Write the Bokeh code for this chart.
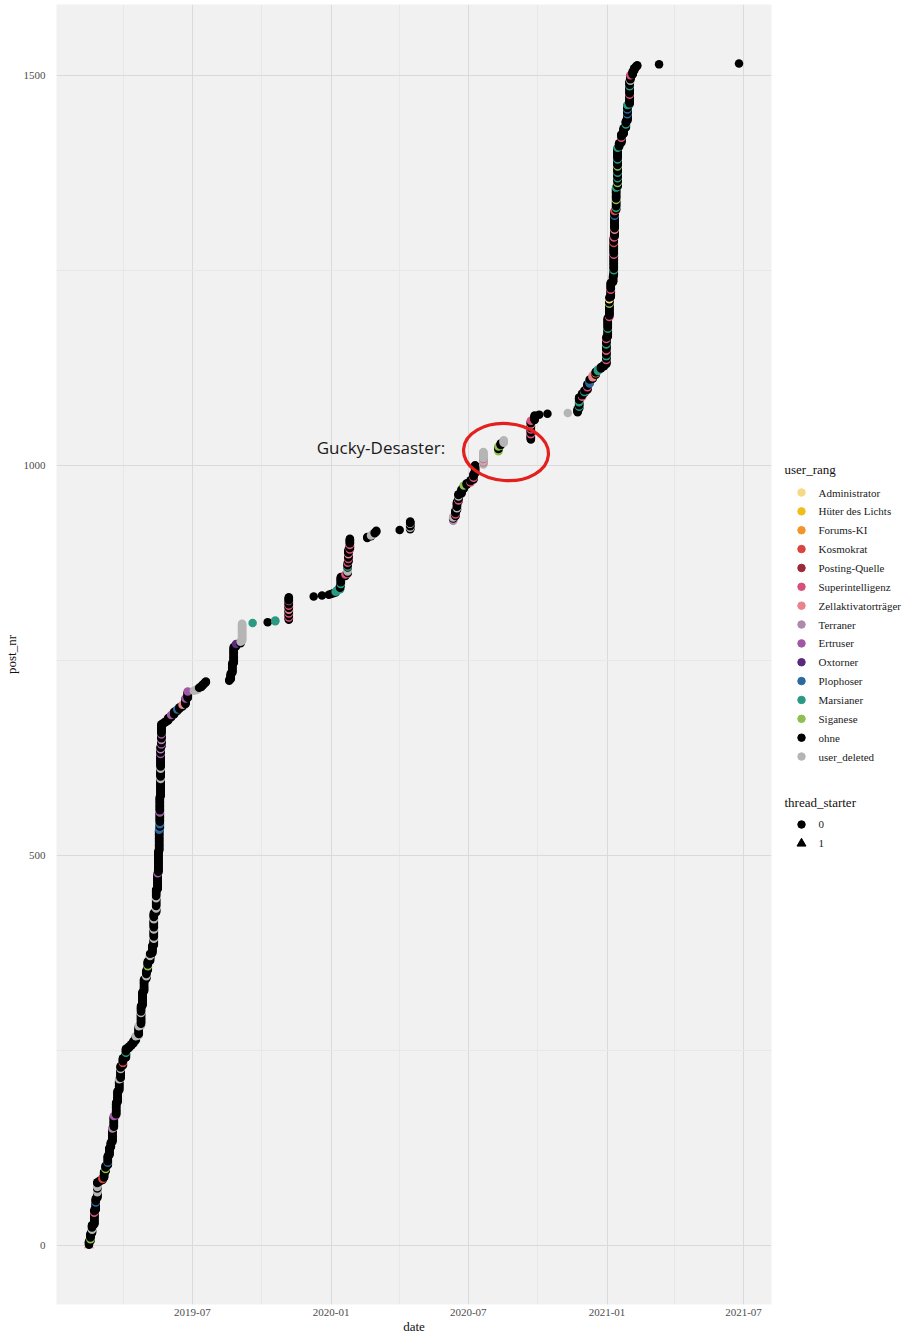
import pandas as pd
from bokeh.plotting import figure
from bokeh.models import ColumnDataSource, FixedTicker, DatetimeTickFormatter, Range1d, Label
from bokeh.layouts import row
from bokeh.core.properties import value
from bokeh.embed import file_html
from bokeh.resources import INLINE

# ---------------- data ----------------
# date of posting and cumulative (last) post_nr reached on that date
day_dates = [
    "2019-02-14", "2019-02-16", "2019-02-18", "2019-02-21", "2019-02-23", "2019-02-25",
    "2019-02-28", "2019-03-04", "2019-03-06", "2019-03-08", "2019-03-11", "2019-03-13",
    "2019-03-15", "2019-03-17", "2019-03-19", "2019-03-22", "2019-03-24", "2019-03-26",
    "2019-03-28", "2019-03-31", "2019-04-04", "2019-04-08", "2019-04-11", "2019-04-14",
    "2019-04-17", "2019-04-21", "2019-04-24", "2019-04-26", "2019-04-28", "2019-05-01",
    "2019-05-03", "2019-05-06", "2019-05-09", "2019-05-11", "2019-05-14", "2019-05-16",
    "2019-05-17", "2019-05-18", "2019-05-19", "2019-05-20", "2019-05-21", "2019-05-24",
    "2019-05-27", "2019-05-30", "2019-06-03", "2019-06-07", "2019-06-11", "2019-06-14",
    "2019-06-18", "2019-06-22", "2019-06-25", "2019-07-03", "2019-07-07", "2019-07-10",
    "2019-07-13", "2019-07-15", "2019-07-17", "2019-07-19", "2019-08-19", "2019-08-21",
    "2019-08-23", "2019-08-25", "2019-08-28", "2019-09-03", "2019-09-05", "2019-09-19",
    "2019-10-09", "2019-10-19", "2019-11-06", "2019-12-09", "2019-12-20", "2019-12-29",
    "2020-01-01", "2020-01-04", "2020-01-07", "2020-01-09", "2020-01-13", "2020-01-14",
    "2020-01-20", "2020-01-23", "2020-01-24", "2020-01-26", "2020-02-18", "2020-02-23",
    "2020-02-25", "2020-02-28", "2020-03-01", "2020-04-01", "2020-04-15", "2020-06-11",
    "2020-06-14", "2020-06-16", "2020-06-18", "2020-06-22", "2020-06-25", "2020-06-29",
    "2020-07-04", "2020-07-08", "2020-07-10", "2020-07-21", "2020-08-10", "2020-08-13",
    "2020-08-17", "2020-09-22", "2020-09-27", "2020-10-03", "2020-10-14", "2020-11-10",
    "2020-11-23", "2020-11-25", "2020-11-29", "2020-12-02", "2020-12-06", "2020-12-09",
    "2020-12-13", "2020-12-17", "2020-12-20", "2020-12-24", "2020-12-28", "2020-12-31",
    "2021-01-02", "2021-01-04", "2021-01-06", "2021-01-09", "2021-01-10", "2021-01-11",
    "2021-01-13", "2021-01-15", "2021-01-17", "2021-01-20", "2021-01-23", "2021-01-26",
    "2021-01-28", "2021-01-31", "2021-02-01", "2021-02-04", "2021-02-06", "2021-02-08",
    "2021-02-10", "2021-03-11", "2021-06-25",
]
cum_posts = [
    5, 15, 26, 45, 60, 81,
    83, 86, 94, 102, 115, 125,
    132, 150, 166, 183, 198, 213,
    230, 240, 252, 255, 258, 262,
    268, 281, 307, 325, 341, 352,
    364, 374, 384, 426, 456, 477,
    505, 533, 575, 639, 668, 670,
    672, 676, 680, 684, 687, 690,
    693, 701, 710, 711, 713, 715,
    717, 719, 721, 723, 725, 733,
    746, 767, 771, 774, 797, 798,
    799, 801, 831, 832, 833, 834,
    835, 836, 838, 840, 846, 857,
    860, 875, 891, 906, 908, 910,
    912, 914, 916, 917, 928, 934,
    942, 953, 963, 969, 974, 977,
    981, 989, 1000, 1017, 1024, 1028,
    1032, 1057, 1064, 1065, 1066, 1067,
    1072, 1087, 1092, 1096, 1104, 1110,
    1115, 1120, 1123, 1126, 1129, 1164,
    1189, 1215, 1234, 1243, 1292, 1326,
    1356, 1407, 1413, 1424, 1432, 1441,
    1462, 1492, 1500, 1505, 1509, 1511,
    1513, 1514, 1515,
]

# user ranks (legend order) and colours
rank_levels = ["Administrator", "Hüter des Lichts", "Forums-KI", "Kosmokrat", "Posting-Quelle",
               "Superintelligenz", "Zellaktivatorträger", "Terraner", "Ertruser", "Oxtorner",
               "Plophoser", "Marsianer", "Siganese", "ohne", "user_deleted"]
rank_colors = ["#F5DA86", "#EFBE1D", "#F2952A", "#D9463E", "#9C2936",
               "#D8507A", "#E8838E", "#B088AE", "#A257A5", "#5B2A7E",
               "#2B6A9E", "#2A9A82", "#8DC04E", "#000000", "#B5B5B5"]

# post_nr runs whose author had a rank other than "ohne"
rank_first = [0, 8, 20, 42, 55, 68, 75, 85, 98, 106, 150, 166, 213, 226, 234, 247, 268, 281, 298,
              345, 358, 371, 393, 405, 418, 432, 445, 477, 533, 540, 555, 598, 611, 630, 636, 642,
              648, 655, 680, 687, 693, 701, 710, 711, 771, 774, 798, 800, 805, 810, 815, 820, 826,
              838, 848, 860, 864, 870, 875, 880, 886, 892, 898, 910, 920, 925, 929, 933, 937, 945,
              955, 960, 974, 978, 984, 1001, 1004, 1008, 1018, 1024, 1029, 1040, 1046, 1052, 1057,
              1067, 1075, 1081, 1088, 1094, 1100, 1105, 1113, 1118, 1121, 1135, 1140, 1147, 1155,
              1162, 1175, 1190, 1207, 1213, 1225, 1250, 1270, 1285, 1292, 1302, 1320, 1326, 1330,
              1340, 1356, 1362, 1368, 1375, 1383, 1392, 1407, 1420, 1437, 1450, 1456, 1462, 1475,
              1486, 1493, 1500]
rank_last = [0, 9, 22, 43, 56, 72, 79, 86, 99, 107, 151, 167, 214, 227, 235, 248, 270, 283, 299,
             347, 359, 373, 395, 407, 420, 434, 447, 478, 536, 542, 557, 600, 613, 631, 637, 643,
             649, 656, 680, 687, 693, 701, 710, 714, 771, 797, 798, 801, 806, 811, 816, 821, 826,
             842, 849, 861, 868, 871, 876, 881, 887, 893, 899, 912, 921, 925, 931, 934, 938, 946,
             956, 961, 974, 979, 985, 1017, 1004, 1008, 1020, 1025, 1032, 1041, 1047, 1053, 1057,
             1067, 1076, 1083, 1089, 1095, 1101, 1109, 1115, 1118, 1123, 1136, 1141, 1148, 1156,
             1163, 1176, 1191, 1208, 1214, 1226, 1251, 1271, 1286, 1293, 1303, 1321, 1327, 1331,
             1341, 1357, 1363, 1369, 1376, 1384, 1393, 1408, 1421, 1438, 1451, 1457, 1463, 1476,
             1487, 1494, 1500]
rank_name = ["Zellaktivatorträger", "Siganese", "user_deleted", "Superintelligenz", "Plophoser",
             "user_deleted", "user_deleted", "Kosmokrat", "Siganese", "Plophoser", "Terraner",
             "Ertruser", "user_deleted", "user_deleted", "Kosmokrat", "Marsianer", "user_deleted",
             "user_deleted", "user_deleted", "user_deleted", "Siganese", "user_deleted",
             "user_deleted", "user_deleted", "user_deleted", "user_deleted", "user_deleted",
             "Ertruser", "Plophoser", "Plophoser", "Ertruser", "user_deleted", "user_deleted",
             "Ertruser", "Terraner", "Ertruser", "Terraner", "Ertruser", "Ertruser", "Plophoser",
             "Zellaktivatorträger", "Ertruser", "Ertruser", "user_deleted", "Oxtorner",
             "user_deleted", "Marsianer", "Marsianer", "Superintelligenz", "Superintelligenz",
             "Zellaktivatorträger", "Superintelligenz", "Superintelligenz", "Marsianer",
             "Marsianer", "Superintelligenz", "user_deleted", "Marsianer", "Superintelligenz",
             "Superintelligenz", "Zellaktivatorträger", "Superintelligenz", "Superintelligenz",
             "user_deleted", "user_deleted", "user_deleted", "Terraner", "user_deleted",
             "Superintelligenz", "user_deleted", "Superintelligenz", "user_deleted", "Siganese",
             "Superintelligenz", "Superintelligenz", "user_deleted", "Superintelligenz",
             "Superintelligenz", "Siganese", "Siganese", "user_deleted", "Superintelligenz",
             "Superintelligenz", "Zellaktivatorträger", "Superintelligenz", "user_deleted",
             "Marsianer", "Marsianer", "Superintelligenz", "Marsianer", "Superintelligenz",
             "Plophoser", "Zellaktivatorträger", "Forums-KI", "Marsianer", "Superintelligenz",
             "Marsianer", "Superintelligenz", "Marsianer", "Superintelligenz", "Marsianer",
             "Superintelligenz", "Siganese", "Administrator", "Superintelligenz", "Marsianer",
             "Superintelligenz", "Kosmokrat", "Superintelligenz", "Zellaktivatorträger",
             "Plophoser", "Kosmokrat", "Marsianer", "Siganese", "Marsianer", "Siganese",
             "Marsianer", "Marsianer", "Siganese", "Marsianer", "Marsianer", "Superintelligenz",
             "Marsianer", "Plophoser", "Plophoser", "Marsianer", "Superintelligenz", "Marsianer",
             "user_deleted", "Superintelligenz"]

thread_starter_posts = [0]

x_ticks = ["2019-07-01", "2020-01-01", "2020-07-01", "2021-01-01", "2021-07-01"]
x_minor = ["2019-01-01", "2019-04-01", "2019-10-01", "2020-04-01", "2020-10-01", "2021-04-01"]
y_ticks = [0, 500, 1000, 1500]
y_minor = [250, 750, 1250]

# ---------------- build table ----------------
post_nr, post_date = [], []
prev = -1
for d, c in zip(pd.to_datetime(day_dates), cum_posts):
    for n in range(prev + 1, c + 1):
        post_nr.append(n)
        post_date.append(d)
    prev = c

ranks = ["ohne"] * len(post_nr)
for a, b, r in zip(rank_first, rank_last, rank_name):
    for n in range(a, b + 1):
        ranks[n] = r
cmap = dict(zip(rank_levels, rank_colors))
colors = [cmap[r] for r in ranks]
starter = [1 if n in thread_starter_posts else 0 for n in post_nr]
markers = ["triangle" if s else "circle" for s in starter]
PT = 8.5
sizes = [PT + 1.5 if s else PT for s in starter]

src = ColumnDataSource(dict(date=post_date, post_nr=post_nr, color=colors,
                            marker=markers, size=sizes))

def ms(s):
    return pd.Timestamp(s).value // 10**6

dmin, dmax = min(post_date), max(post_date)
span = dmax - dmin
x_range = Range1d(dmin - 0.05 * span, dmax + 0.05 * span)
ymax = max(post_nr)
y_range = Range1d(-0.05 * ymax, ymax * 1.05)

SERIF = "Liberation Serif"
FW, FH, TOP = 715, 1300, 4

p = figure(frame_width=FW, frame_height=FH, x_axis_type="datetime",
           x_range=x_range, y_range=y_range, toolbar_location=None,
           output_backend="svg", min_border_left=52, min_border_right=6,
           min_border_top=TOP, min_border_bottom=0)
p.background_fill_color = "#F1F1F1"
p.border_fill_color = "white"
p.outline_line_color = None

p.xaxis.ticker = FixedTicker(ticks=[ms(t) for t in x_ticks], minor_ticks=[ms(t) for t in x_minor])
p.xaxis.formatter = DatetimeTickFormatter(years="%Y-%m", months="%Y-%m", days="%Y-%m",
                                          hours="%Y-%m", minutes="%Y-%m", seconds="%Y-%m",
                                          milliseconds="%Y-%m", microseconds="%Y-%m")
p.yaxis.ticker = FixedTicker(ticks=y_ticks, minor_ticks=y_minor)
p.xaxis.axis_label = "date"
p.yaxis.axis_label = "post_nr"
for ax in (p.xaxis, p.yaxis):
    ax.axis_line_color = None
    ax.major_tick_line_color = None
    ax.minor_tick_line_color = None
    ax.major_tick_out = 0
    ax.minor_tick_out = 0
    ax.major_label_text_font = SERIF
    ax.major_label_text_font_size = "11px"
    ax.major_label_text_color = "#4D4D4D"
    ax.axis_label_text_font = SERIF
    ax.axis_label_text_font_size = "13px"
    ax.axis_label_text_font_style = "normal"
    ax.axis_label_text_color = "#111111"
    ax.axis_label_standoff = 2
p.xaxis.major_label_standoff = 4
p.xaxis.axis_label_standoff = 0
p.yaxis.major_label_standoff = 11
p.yaxis.major_label_orientation = "horizontal"

for g in (p.xgrid, p.ygrid):
    g.grid_line_color = "#DADADA"
    g.grid_line_width = 1
    g.minor_grid_line_color = "#E7E7E7"
    g.minor_grid_line_width = 1

p.scatter(x="date", y="post_nr", source=src, marker="marker", size="size",
          fill_color="color", line_color=None)

# annotation
p.add_layout(Label(x=ms("2019-12-13"), y=1023, text="Gucky-Desaster:",
                   text_font="Open Sans", text_font_size="17px", text_color="#1A1A1A",
                   text_baseline="middle", text_align="left"))
p.ellipse(x=[ms("2020-08-20")], y=[1017], width=85, height=57,
          width_units="screen", height_units="screen", angle=-0.07,
          fill_color=None, line_color="#E3201E", line_width=3.2)

# ---------------- legend panel ----------------
LW = 127
LH = TOP + FH
leg = figure(frame_width=LW, frame_height=LH, x_range=Range1d(0, LW), y_range=Range1d(LH, 0),
             x_axis_type=None, y_axis_type=None, toolbar_location=None,
             output_backend="svg", min_border=0)
leg.outline_line_color = None
leg.grid.visible = False
leg.background_fill_color = "white"
leg.border_fill_color = "white"

cy = TOP + FH / 2  # frame centre
title1_y = cy - 189
item_y = [cy - 166 + i * 18.86 for i in range(len(rank_levels))]
leg.text(x=[7], y=[title1_y], text=["user_rang"], text_font=value(SERIF),
         text_font_size="13px", text_baseline="middle", text_color="#111111")
leg.scatter(x=[24] * len(rank_levels), y=item_y, color=rank_colors, size=7.5, marker="circle")
leg.text(x=[41] * len(rank_levels), y=item_y, text=rank_levels, text_font=value(SERIF),
         text_font_size="11px", text_baseline="middle", text_color="#1A1A1A")

title2_y = cy + 144
ts_labels = ["0", "1"]
ts_markers = ["circle", "triangle"]
ts_y = [cy + 166, cy + 185]
leg.text(x=[7], y=[title2_y], text=["thread_starter"], text_font=value(SERIF),
         text_font_size="13px", text_baseline="middle", text_color="#111111")
leg.scatter(x=[24, 24], y=ts_y, marker=ts_markers, size=[7.5, 9], color="black")
leg.text(x=[41, 41], y=ts_y, text=ts_labels, text_font=value(SERIF),
         text_font_size="11px", text_baseline="middle", text_color="#1A1A1A")

layout = row(p, leg)
open("out.html", "w").write(file_html(layout, INLINE))
